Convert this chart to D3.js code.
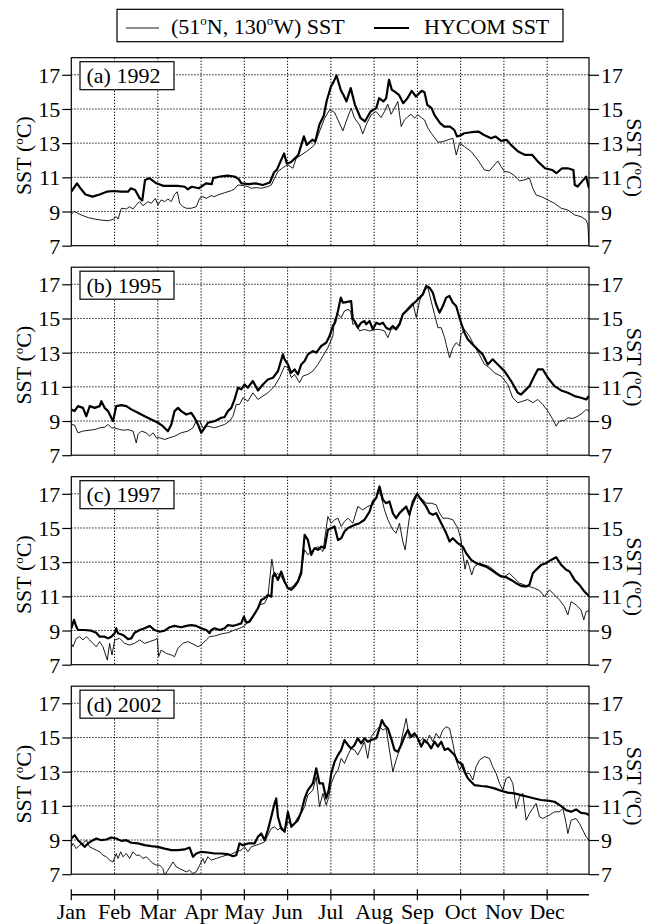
<!DOCTYPE html>
<head>
<meta charset="utf-8">
<script src="https://d3js.org/d3.v7.min.js"></script>
<style>
	body { margin: 0; background: #fff; }
	svg { display: block; font-family: "Liberation Serif", "Times New Roman", serif; }
</style>
</head>
<body>
<svg width="647" height="924"></svg>
<script>
	// month labels and the day each month starts at on the axis
	var months = ['Jan', 'Feb', 'Mar', 'Apr', 'May', 'Jun', 'Jul', 'Aug', 'Sep', 'Oct', 'Nov', 'Dec'];
	var monthDays = [0, 30.5, 61, 91.5, 122, 152.5, 183, 213.5, 244, 274.5, 305, 335.5];
	var yTicks = [7, 9, 11, 13, 15, 17];
	var panelLabels = ['(a) 1992', '(b) 1995', '(c) 1997', '(d) 2002'];

	// [day of year, SST degC]
	var buoy1992 = [[0,8.84],[2,9.0],[7,8.8],[12,8.64],[16.5,8.56],[21,8.5],[26,8.46],[29.4,8.54],[31.7,8.7],[33,8.56],[35.3,9.19],[38.8,9.15],[41.1,9.28],[43.5,9.15],[45.8,9.38],[48.2,9.58],[50.5,9.34],[54.1,9.58],[56.4,9.48],[59.2,9.77],[61.1,9.38],[63.4,9.68],[65.8,9.58],[68.1,9.73],[70.5,9.58],[72.8,10.0],[74.7,10.16],[76.4,9.48],[78.7,9.28],[81.1,9.19],[84.6,9.19],[88.1,9.28],[90.5,9.77],[92.8,9.87],[95.2,9.77],[98.7,9.93],[101,9.87],[103.4,9.97],[108.1,10.1],[112.8,10.22],[115.1,10.32],[117.5,10.55],[121,10.52],[124.5,10.46],[126.9,10.36],[130.4,10.4],[133.9,10.36],[138.6,10.46],[141,10.55],[143.3,10.95],[145.7,11.34],[149.2,11.57],[152.7,11.73],[156.2,11.53],[158.6,12.12],[162.1,12.31],[165.6,12.5],[168.7,12.7],[171.5,12.9],[175,13.68],[178.6,14.46],[182.1,14.95],[185.6,14.8],[188,14.36],[191.5,13.72],[193.8,14.27],[197.3,15.05],[199.7,14.46],[203.2,14.07],[205.5,13.54],[207.9,14.07],[211.4,14.66],[214.9,14.85],[218.4,14.5],[220.8,14.85],[223.1,15.28],[225.5,14.69],[227.9,15.05],[230.2,15.44],[232.6,13.97],[234.9,14.36],[237.3,14.56],[239.6,14.69],[242,14.46],[244.3,14.66],[246.7,14.5],[249,14.36],[251.4,13.88],[253.8,13.58],[256.1,13.33],[258.5,13.05],[262,13.09],[265.5,13.19],[269,13.29],[271.4,12.31],[273.7,12.99],[277.2,12.8],[281.9,12.51],[286.6,12.02],[291.3,11.43],[294.8,11.38],[298.3,11.73],[300.7,11.96],[303,11.63],[305.4,11.34],[308.9,11.3],[312.4,11.1],[316,10.79],[319.5,10.85],[323,10.95],[325.4,10.36],[327.7,9.97],[331.3,9.87],[336,9.68],[340.7,9.48],[345.4,9.19],[350.1,9.09],[354.8,8.8],[359.4,8.7],[363,8.5],[364.2,8.21],[365,7.04]];
	var hycom1992 = [[0,10.16],[4,10.65],[7,10.3],[10,10.0],[15,9.87],[20,10.0],[25,10.16],[30,10.2],[35,10.16],[40,10.16],[42,10.36],[45,10.26],[48,9.8],[50,9.64],[52,10.85],[55,10.95],[60,10.65],[65,10.5],[70,10.5],[75,10.5],[80,10.45],[82,10.3],[85,10.45],[90,10.36],[95,10.65],[99,10.6],[100,10.95],[105,11.05],[110,11.1],[115,11.05],[118,10.9],[120,10.65],[125,10.6],[130,10.65],[135,10.55],[140,10.7],[143,11.3],[145,11.45],[150,12.4],[152,11.8],[155,11.9],[160,12.3],[164,13.4],[166,12.9],[170,13.2],[172,13.1],[175,14.1],[178,14.6],[180,15.45],[183,16.3],[185,16.6],[187,16.96],[190,16.1],[192,15.8],[194,15.44],[197,16.22],[200,15.24],[202,14.85],[204,14.46],[207,14.27],[209,14.56],[211,14.85],[215,15.05],[217,15.63],[220,15.44],[222,15.63],[224,16.71],[226,16.12],[228,16.02],[231,15.83],[234,15.34],[237,15.63],[240,16.06],[243,15.73],[247,16.06],[249,15.98],[251,15.24],[254,15.05],[256,14.66],[260,14.17],[263,13.97],[267,13.97],[270,13.78],[272,13.39],[275,13.48],[277,13.58],[282,13.64],[287,13.68],[291,13.48],[296,13.29],[299,13.39],[303,13.13],[307,13.19],[310,12.9],[315,12.51],[320,12.31],[325,12.31],[329,11.92],[334,11.53],[339,11.43],[342,11.24],[346,11.53],[350,11.53],[354,11.43],[355,10.55],[357,10.46],[361,10.85],[363,11.04],[365,10.36]];

	var buoy1995 = [[0,8.8],[2.3,8.76],[4.7,8.31],[8.2,8.41],[11.8,8.45],[16.5,8.5],[20,8.6],[23.5,8.64],[25.9,8.8],[28.2,8.6],[30.6,8.6],[34.1,8.5],[37.6,8.46],[40,8.5],[43.5,8.41],[45.8,7.72],[47,8.21],[49.4,8.41],[52.9,8.31],[55.2,8.11],[57.6,8.31],[59.9,8.02],[62.3,8.02],[65.8,7.92],[69.3,8.02],[72.8,8.11],[77.5,8.31],[82.2,8.41],[85.8,8.6],[88.1,9.0],[90.5,9.0],[92.8,8.6],[96.3,8.7],[101,8.6],[104.6,8.7],[108.1,8.8],[111.6,9.0],[114,9.28],[116.3,9.97],[118.6,9.97],[121,10.36],[124.5,10.16],[128,10.65],[131.6,10.26],[135.1,10.46],[138.6,10.65],[143.3,11.04],[146.8,11.53],[150.4,12.21],[152.7,12.12],[155.1,11.53],[157.4,11.73],[160.9,11.24],[163.3,11.63],[166.8,11.73],[170.3,11.92],[173.9,12.31],[177.4,12.8],[180.9,13.29],[184.4,13.97],[185.6,14.95],[188,15.24],[190.3,15.05],[192.6,15.44],[195,15.53],[196.9,15.44],[198.5,14.66],[200.9,14.75],[203.2,14.27],[206.7,14.36],[210.3,14.27],[213.8,14.36],[217.3,14.36],[220.8,14.27],[223.2,13.88],[225.5,14.36],[229,14.46],[231.4,14.75],[233.7,15.24],[237.3,15.63],[240.8,15.92],[243.2,15.05],[245.5,16.02],[249,16.71],[251.4,16.8],[253.7,16.02],[256.1,15.24],[258.5,14.46],[260.8,14.46],[263.2,13.88],[264.3,13.48],[266.7,12.7],[269,13.29],[271.4,13.58],[273.7,13.39],[274.8,14.07],[277.2,14.36],[280.7,13.97],[284.2,13.39],[287.6,12.9],[291.3,12.31],[294.8,12.12],[298.3,11.82],[303,11.63],[307.7,11.14],[311.2,10.36],[314.8,10.07],[318.3,10.16],[321.8,10.26],[325.4,10.07],[328.9,10.26],[332.4,9.97],[336,9.58],[339.5,9.09],[341.8,8.7],[344.2,9.0],[347.7,9.03],[350.1,9.19],[353.6,9.15],[357.1,9.28],[360.6,9.48],[363,9.68],[365,9.58]];
	var hycom1995 = [[0,9.67],[2.3,9.58],[4.7,9.87],[8.2,9.77],[10.6,9.28],[13,9.87],[16.5,9.77],[20,9.87],[21.2,10.16],[23.5,9.77],[25.9,9.58],[28.2,9.19],[29.4,9.0],[31.7,9.87],[35.3,9.93],[38.8,9.87],[42.3,9.68],[47,9.48],[51.7,9.28],[56.4,9.09],[61.1,8.9],[64.6,8.7],[68.1,8.4],[70.5,8.8],[72.8,9.58],[75.2,9.77],[77.5,9.58],[81.1,9.38],[84.6,9.48],[86.9,9.19],[89.3,8.8],[91.6,8.31],[94,8.6],[96.3,8.9],[101,8.99],[105.7,9.19],[108.1,9.23],[110.4,9.58],[112.8,9.77],[115.1,10.26],[117.5,10.95],[119.8,10.85],[122.2,11.14],[124.5,10.95],[128,11.34],[131.6,10.79],[135.1,11.14],[138.6,11.43],[142.2,11.53],[145.7,11.92],[149.2,12.9],[150.4,12.61],[152.7,12.31],[155,11.82],[157.4,12.02],[159.8,11.73],[162.1,12.31],[164.5,12.51],[166.8,12.9],[170.3,13.09],[172.7,13.0],[176.2,13.39],[179.7,13.58],[182.1,13.97],[184.4,14.56],[186,14.75],[188,15.44],[190,16.22],[191.5,15.92],[193.8,15.96],[197.3,16.02],[198.5,14.95],[199.7,14.85],[202,14.46],[204.4,14.75],[206.7,14.85],[207.9,14.66],[210.3,14.85],[212.6,14.36],[215,14.75],[217.3,14.66],[219.7,14.75],[222,14.46],[224.3,14.36],[226.7,14.56],[229,14.36],[231.4,14.66],[233.7,15.24],[237.3,15.53],[240.8,15.83],[243.2,16.02],[245.5,16.22],[247.9,16.41],[250.2,16.9],[252.5,16.8],[254.9,16.51],[257.2,15.83],[259.6,15.34],[262,15.73],[264.3,16.22],[266.6,16.32],[269,15.92],[271.3,15.73],[274.8,14.75],[277.2,14.17],[279.5,13.78],[283,13.48],[286.5,13.19],[290,12.9],[293.6,12.31],[297.1,12.61],[300.7,12.31],[305.4,11.92],[310.1,11.34],[314.8,10.65],[317.1,10.55],[319.5,10.75],[323,11.04],[326.5,11.63],[328.9,12.02],[332.4,12.02],[336,11.53],[340.7,11.04],[345.4,10.79],[350.1,10.65],[354.8,10.46],[359.5,10.36],[363,10.26],[365,10.46]];

	var buoy1997 = [[0,8.25],[1.2,8.05],[3.5,8.54],[5.9,8.64],[8.2,8.45],[10.6,8.64],[12.9,8.45],[15.3,8.25],[17.6,8.05],[20,8.35],[22.3,8.05],[25.4,7.27],[27,8.25],[28.7,7.57],[30.6,8.45],[34.1,8.54],[37.6,8.25],[41.1,8.15],[44.6,8.25],[48.2,8.45],[51.7,8.25],[55.2,8.35],[58.7,8.45],[60.6,8.54],[61.6,7.47],[63.4,7.86],[67,7.66],[70.5,7.57],[72.8,7.47],[75.2,7.96],[78.7,8.25],[82.2,8.35],[85.8,8.21],[89.3,8.05],[91.6,8.15],[95.2,8.45],[97.5,8.64],[101,8.68],[105.7,8.8],[110.4,8.87],[115.1,9.03],[118.6,9.13],[122.2,9.27],[125.7,9.62],[129.2,10.0],[132.8,10.5],[136.3,10.59],[138.6,10.98],[141.4,13.17],[143.3,12.16],[145.2,12.35],[148,12.16],[150.4,11.77],[152.7,11.47],[156.2,11.57],[159.8,11.96],[162.1,12.55],[164.5,13.72],[166.8,13.43],[170.3,13.72],[173.9,13.91],[177.4,13.62],[180.9,15.67],[183.3,15.28],[185.6,15.48],[188,15.57],[190.3,15.09],[192.6,15.38],[195,15.57],[198.5,15.28],[202,16.26],[205.5,16.06],[209,16.26],[212.6,16.36],[215,16.75],[216.1,17.23],[218.5,16.84],[220.8,16.06],[223.2,15.48],[226.7,14.89],[229,14.7],[231.4,15.28],[233.7,14.21],[235.4,13.72],[237.3,14.99],[239.2,16.06],[241.5,16.45],[243.8,16.94],[246.7,16.75],[250.2,16.45],[253.7,16.45],[257.2,16.36],[259.6,15.87],[262,15.57],[265.5,15.57],[269,15.48],[272.5,14.99],[274.8,14.3],[276,13.52],[277.6,12.59],[279,13.13],[280.7,12.74],[282.3,12.25],[284.2,12.74],[287.8,12.94],[291.3,12.84],[294.8,12.74],[298.3,12.51],[301.9,12.25],[305.4,12.16],[308.9,12.35],[312.4,12.06],[316,11.77],[319.5,11.67],[323,11.57],[326.6,11.47],[330.1,11.34],[333.6,10.98],[337.1,11.38],[340.7,11.08],[344.2,10.79],[347.7,10.4],[350.1,9.91],[352.4,10.69],[355.9,10.5],[359.4,10.2],[361.3,9.62],[363,10.11],[365,10.16]];
	var hycom1997 = [[0,9.13],[1.9,9.62],[3.5,9.23],[4.7,9.03],[9.4,9.03],[14.1,8.99],[17.6,8.87],[20,8.64],[23.5,8.64],[25.9,8.54],[28.2,8.64],[30.6,8.84],[31.7,9.13],[32.9,8.84],[36.4,8.74],[40,8.5],[42.3,8.54],[44.6,8.87],[48.2,9.03],[51.7,9.13],[55.2,9.27],[58.7,9.03],[62.3,8.93],[65.8,8.99],[69.3,9.19],[72.8,9.27],[77.5,9.19],[81.1,9.27],[84.6,9.32],[88.1,9.27],[91.6,9.13],[95.2,9.03],[97.5,8.84],[98.7,9.03],[101,9.13],[104.6,9.03],[108.1,9.13],[110.4,9.32],[114,9.27],[116.3,9.32],[119.8,9.42],[121.7,9.81],[123.4,9.46],[125.7,9.52],[128,9.81],[131.6,10.3],[133.9,10.79],[136.3,10.89],[138.6,11.08],[141,10.98],[142.1,12.16],[143.3,12.35],[145.7,11.96],[148,12.45],[150.4,11.86],[152.7,11.47],[155.1,11.38],[157.4,11.57],[159.8,11.86],[162.1,12.35],[164.5,14.6],[166.8,14.3],[169.2,13.43],[171.5,13.82],[173.9,13.72],[176.2,13.91],[178.6,13.82],[180.9,14.89],[183.3,14.99],[185.6,15.09],[188,14.3],[190.3,14.4],[192.6,14.79],[195,14.99],[197.3,15.09],[199.7,15.18],[203.2,15.28],[206.7,15.48],[210.3,15.96],[212.6,16.55],[215,16.75],[217.3,17.43],[219.7,16.65],[222,16.45],[224.3,16.55],[226.7,15.87],[229,15.57],[231.4,15.87],[233.7,16.06],[236.1,16.26],[238.4,15.77],[240.8,16.55],[243.8,17.0],[246.7,16.65],[250.2,16.26],[252.5,15.87],[254.9,15.77],[257.2,15.87],[259.6,15.48],[262,15.09],[264.3,14.7],[266.7,14.21],[269,14.4],[272.5,14.11],[276,13.91],[278.4,13.52],[281.9,13.13],[285.4,12.94],[288.9,12.84],[292.5,12.74],[296,12.55],[299.5,12.35],[303,12.16],[306.6,12.12],[310.1,11.96],[313.6,11.77],[317.1,11.61],[320.7,11.57],[323,11.67],[325.4,12.35],[327.7,12.55],[331.3,12.84],[334.7,12.94],[338.3,13.13],[341.8,13.29],[345.4,12.84],[348.9,12.55],[351.3,12.45],[354.8,11.96],[358.3,11.67],[361.8,11.28],[365,11.02]];

	var buoy2002 = [[0,8.6],[1.2,8.8],[3.5,8.5],[5.9,8.7],[8.2,8.8],[10.6,8.99],[12.9,8.6],[15.3,8.5],[17.6,8.41],[20,8.31],[22.3,8.11],[24.7,8.02],[27,7.82],[29.4,7.72],[31.7,8.21],[32.9,7.92],[34.8,8.31],[36.4,8.02],[38.8,8.21],[41.1,7.92],[43.5,8.31],[45.8,8.11],[48.2,8.11],[50.5,7.92],[52.9,8.02],[55.2,7.82],[57.6,7.63],[59.9,7.53],[62.3,7.53],[64.6,7.33],[65.8,6.94],[68.1,7.23],[71.7,7.72],[74,7.43],[76.4,7.33],[78.7,7.23],[81.1,7.14],[83.4,7.23],[85.8,7.04],[88.1,7.14],[90.5,7.53],[92.8,7.92],[94,7.63],[96.3,8.02],[98.7,7.82],[102.2,7.92],[105.7,8.02],[109.3,8.11],[112.8,8.17],[116.3,8.31],[119.8,8.41],[122.2,8.6],[124.5,8.31],[126.9,8.6],[130.4,8.7],[133.9,8.8],[136.3,8.89],[138.6,9.28],[141,9.68],[143.3,9.77],[145.7,9.58],[148,9.77],[150.4,9.58],[152.7,10.07],[155.1,9.87],[157.4,9.97],[159.8,10.36],[162.1,10.55],[164.5,10.95],[166.8,11.63],[170.3,11.92],[172.7,12.7],[175,10.95],[177.4,11.73],[179.7,11.04],[181.5,11.5],[183.3,12.31],[185.6,12.8],[188,13.09],[190.3,13.78],[192.6,13.48],[195,13.97],[197.3,14.36],[199.7,14.27],[202,13.97],[204.4,14.36],[206.7,14.75],[209,13.78],[211.4,15.05],[215,15.44],[217.3,15.63],[219.7,15.44],[222,15.53],[224.3,14.27],[226.7,13.0],[229,13.68],[231.4,14.27],[233.7,15.24],[236.1,16.12],[238.4,14.95],[240.8,15.05],[243.2,15.14],[245.5,14.75],[247.9,14.95],[250.2,14.66],[252.5,15.14],[254.9,14.75],[257.2,15.24],[259.6,14.95],[262,15.44],[264.3,15.63],[266.7,15.53],[269,14.66],[271.3,13.68],[273.7,13.09],[276,13.48],[278.4,12.9],[280.7,12.9],[283.1,12.51],[285.4,13.29],[287.8,13.68],[291.3,13.88],[294.8,13.78],[297.1,13.29],[299.5,12.9],[301.9,12.31],[304.2,11.92],[306.6,12.61],[308.9,12.7],[311.3,12.31],[313.6,10.85],[316,11.53],[318.3,11.73],[320.7,10.16],[323,10.55],[325.4,10.85],[327.7,11.14],[330.1,10.36],[332.4,10.26],[334.8,10.36],[337.1,10.46],[340.7,10.65],[344.2,10.65],[346.6,10.85],[348.9,9.97],[350.1,9.38],[352.4,10.16],[355.9,10.26],[358.3,9.97],[360.6,9.58],[363,9.19],[365,8.99]];
	var hycom2002 = [[0,9.09],[2.3,9.28],[4.7,8.99],[7.1,8.8],[9.4,8.6],[11.8,8.8],[15.3,8.99],[17.6,9.09],[21.2,8.99],[24.7,9.03],[28.2,9.15],[31.7,9.09],[35.3,8.95],[38.8,8.99],[42.3,8.84],[47,8.8],[51.7,8.7],[56.4,8.64],[61.1,8.6],[65.8,8.5],[70.5,8.41],[75.2,8.41],[79.9,8.45],[83.4,8.56],[85.8,8.02],[88.1,8.21],[91.6,8.31],[96.3,8.27],[101,8.21],[105.7,8.21],[110.4,8.17],[114,8.05],[116.3,8.11],[118.6,8.8],[121,8.7],[124.5,8.8],[129.2,8.8],[131.6,9.19],[133.9,9.38],[136.3,8.99],[138.6,9.58],[141,10.36],[143.3,11.14],[144.5,11.43],[145.7,10.36],[148,9.68],[150.4,9.48],[152.7,10.65],[155.1,9.77],[157.4,9.97],[159.8,10.16],[162.1,10.65],[164.5,11.43],[166.8,11.92],[170.3,12.31],[172.7,13.19],[175,12.31],[177.4,12.31],[179.7,11.43],[181.5,11.92],[183.3,12.9],[185.6,13.58],[188,13.97],[190.3,14.27],[192.6,14.85],[195,14.56],[197.3,14.36],[199.7,14.56],[202,14.95],[204.4,14.66],[206.7,14.95],[209,14.75],[211.4,14.85],[215,14.95],[217.3,15.53],[219,16.02],[220.8,15.73],[223.2,15.53],[225.5,14.95],[227.9,14.27],[230.2,14.17],[232.6,14.56],[234.9,15.05],[237.3,15.44],[239.6,15.05],[242,15.24],[244.3,14.95],[246.7,14.46],[249,14.85],[251.4,14.66],[253.7,14.36],[256.1,14.75],[258.5,14.46],[260.8,14.75],[263.2,14.27],[265.5,14.36],[267.9,14.17],[270.2,13.97],[272.6,13.58],[274.9,13.48],[277.2,13.0],[279.6,12.61],[281.9,12.41],[284.3,12.21],[289,12.16],[293.7,12.12],[298.3,12.02],[303,11.88],[307.7,11.77],[312.4,11.73],[317.1,11.63],[321.8,11.53],[326.6,11.43],[331.3,11.34],[336,11.3],[340.7,11.24],[345.4,10.98],[348.9,10.75],[352.4,10.65],[355.9,10.79],[359.4,10.59],[363,10.55],[365,10.46]];

	var panels = [
		{label: panelLabels[0], buoy: buoy1992, hycom: hycom1992},
		{label: panelLabels[1], buoy: buoy1995, hycom: hycom1995},
		{label: panelLabels[2], buoy: buoy1997, hycom: hycom1997},
		{label: panelLabels[3], buoy: buoy2002, hycom: hycom2002}
	];

	var left = 71.3, right = 589, top0 = 57.7, step = 209.5, ph = 188, fs = 22;
	var svg = d3.select('svg');
	var x = d3.scaleLinear().domain([0, 365]).range([left, right]);

	svg.append('defs').append('clipPath').attr('id', 'plotclip')
		.append('rect').attr('x', left).attr('y', 0).attr('width', right - left).attr('height', ph);

	// superscript "o" helper for the degree marks
	function sstLabel(sel) {
		sel.append('tspan').text('SST (');
		sel.append('tspan').attr('font-size', 13).attr('dy', -8).text('o');
		sel.append('tspan').attr('dy', 8).text('C)');
	}

	panels.forEach(function (p, i) {
		var top = top0 + i * step;
		var g = svg.append('g').attr('transform', 'translate(0,' + top + ')');
		var y = d3.scaleLinear().domain([7, 18]).range([ph, 0]);

		// dotted grid
		g.append('g').selectAll('line.h').data(yTicks.slice(1)).enter().append('line')
			.attr('x1', left).attr('x2', right)
			.attr('y1', function (d) { return y(d); }).attr('y2', function (d) { return y(d); })
			.attr('stroke', '#000').attr('stroke-width', 1).attr('stroke-dasharray', '1.3,1.7');
		g.append('g').selectAll('line.v').data(monthDays.slice(1)).enter().append('line')
			.attr('x1', function (d) { return x(d); }).attr('x2', function (d) { return x(d); })
			.attr('y1', 0).attr('y2', ph)
			.attr('stroke', '#000').attr('stroke-width', 1).attr('stroke-dasharray', '1.3,1.7');

		var line = d3.line()
			.x(function (d) { return x(d[0]); })
			.y(function (d) { return y(d[1]); });

		var lines = g.append('g').attr('clip-path', 'url(#plotclip)');
		lines.append('path').datum(p.buoy)
			.attr('d', line).attr('fill', 'none').attr('stroke', '#000').attr('stroke-width', 0.9)
			.attr('stroke-linejoin', 'round');
		lines.append('path').datum(p.hycom)
			.attr('d', line).attr('fill', 'none').attr('stroke', '#000').attr('stroke-width', 2.2)
			.attr('stroke-linejoin', 'round');

		// frame
		g.append('rect').attr('x', left).attr('y', 0).attr('width', right - left).attr('height', ph)
			.attr('fill', 'none').attr('stroke', '#000').attr('stroke-width', 1.2);

		// axes
		var ax = g.append('g').attr('transform', 'translate(' + left + ',0)')
			.call(d3.axisLeft(y).tickValues(yTicks).tickSize(9).tickPadding(2).tickFormat(d3.format('d')));
		var ax2 = g.append('g').attr('transform', 'translate(' + right + ',0)')
			.call(d3.axisRight(y).tickValues(yTicks).tickSize(10).tickPadding(2).tickFormat(d3.format('d')));
		[ax, ax2].forEach(function (a) {
			a.select('.domain').remove();
			a.selectAll('text').attr('font-size', fs).attr('font-family', '"Liberation Serif", serif')
				.attr('fill', '#000').attr('dy', '0.34em');
			a.selectAll('line').attr('stroke', '#000').attr('stroke-width', 1.2);
		});

		// panel tag
		g.append('rect').attr('x', 80).attr('y', 4).attr('width', 94).attr('height', 28)
			.attr('fill', '#fff').attr('stroke', '#000').attr('stroke-width', 1.2);
		g.append('text').attr('x', 86.5).attr('y', 25.8).attr('font-size', fs).text(p.label);

		// y labels
		g.append('text').attr('text-anchor', 'middle').attr('font-size', fs)
			.attr('transform', 'translate(31,' + 98 + ') rotate(-90)').call(sstLabel);
		g.append('text').attr('text-anchor', 'middle').attr('font-size', fs)
			.attr('transform', 'translate(627,' + 100 + ') rotate(90)').call(sstLabel);
	});

	// bottom month axis
	var axisY = 894.7;
	var bx = svg.append('g');
	bx.append('line').attr('x1', left).attr('x2', right).attr('y1', axisY).attr('y2', axisY)
		.attr('stroke', '#000').attr('stroke-width', 1.4);
	bx.selectAll('line.t').data(monthDays).enter().append('line')
		.attr('x1', function (d) { return x(d); }).attr('x2', function (d) { return x(d); })
		.attr('y1', axisY - 5.5).attr('y2', axisY + 5.5)
		.attr('stroke', '#000').attr('stroke-width', 1.2);
	bx.selectAll('text').data(months).enter().append('text')
		.attr('x', function (d, i) { return x(monthDays[i]); }).attr('y', 919)
		.attr('text-anchor', 'middle').attr('font-size', fs).text(function (d) { return d; });

	// legend
	var lg = svg.append('g');
	lg.append('rect').attr('x', 117).attr('y', 9.3).attr('width', 446).attr('height', 32.4)
		.attr('fill', '#fff').attr('stroke', '#000').attr('stroke-width', 1.2);
	lg.append('line').attr('x1', 126).attr('x2', 159).attr('y1', 28).attr('y2', 28)
		.attr('stroke', '#000').attr('stroke-width', 0.9);
	lg.append('line').attr('x1', 374).attr('x2', 409).attr('y1', 28).attr('y2', 28)
		.attr('stroke', '#000').attr('stroke-width', 2.2);
	var lt = lg.append('text').attr('x', 171).attr('y', 34).attr('font-size', fs);
	lt.append('tspan').text('(51');
	lt.append('tspan').attr('font-size', 13).attr('dy', -9).text('o');
	lt.append('tspan').attr('dy', 9).text('N, 130');
	lt.append('tspan').attr('font-size', 13).attr('dy', -9).text('o');
	lt.append('tspan').attr('dy', 9).text('W) SST');
	lg.append('text').attr('x', 424).attr('y', 34).attr('font-size', fs).text('HYCOM SST');
</script>
</body>
